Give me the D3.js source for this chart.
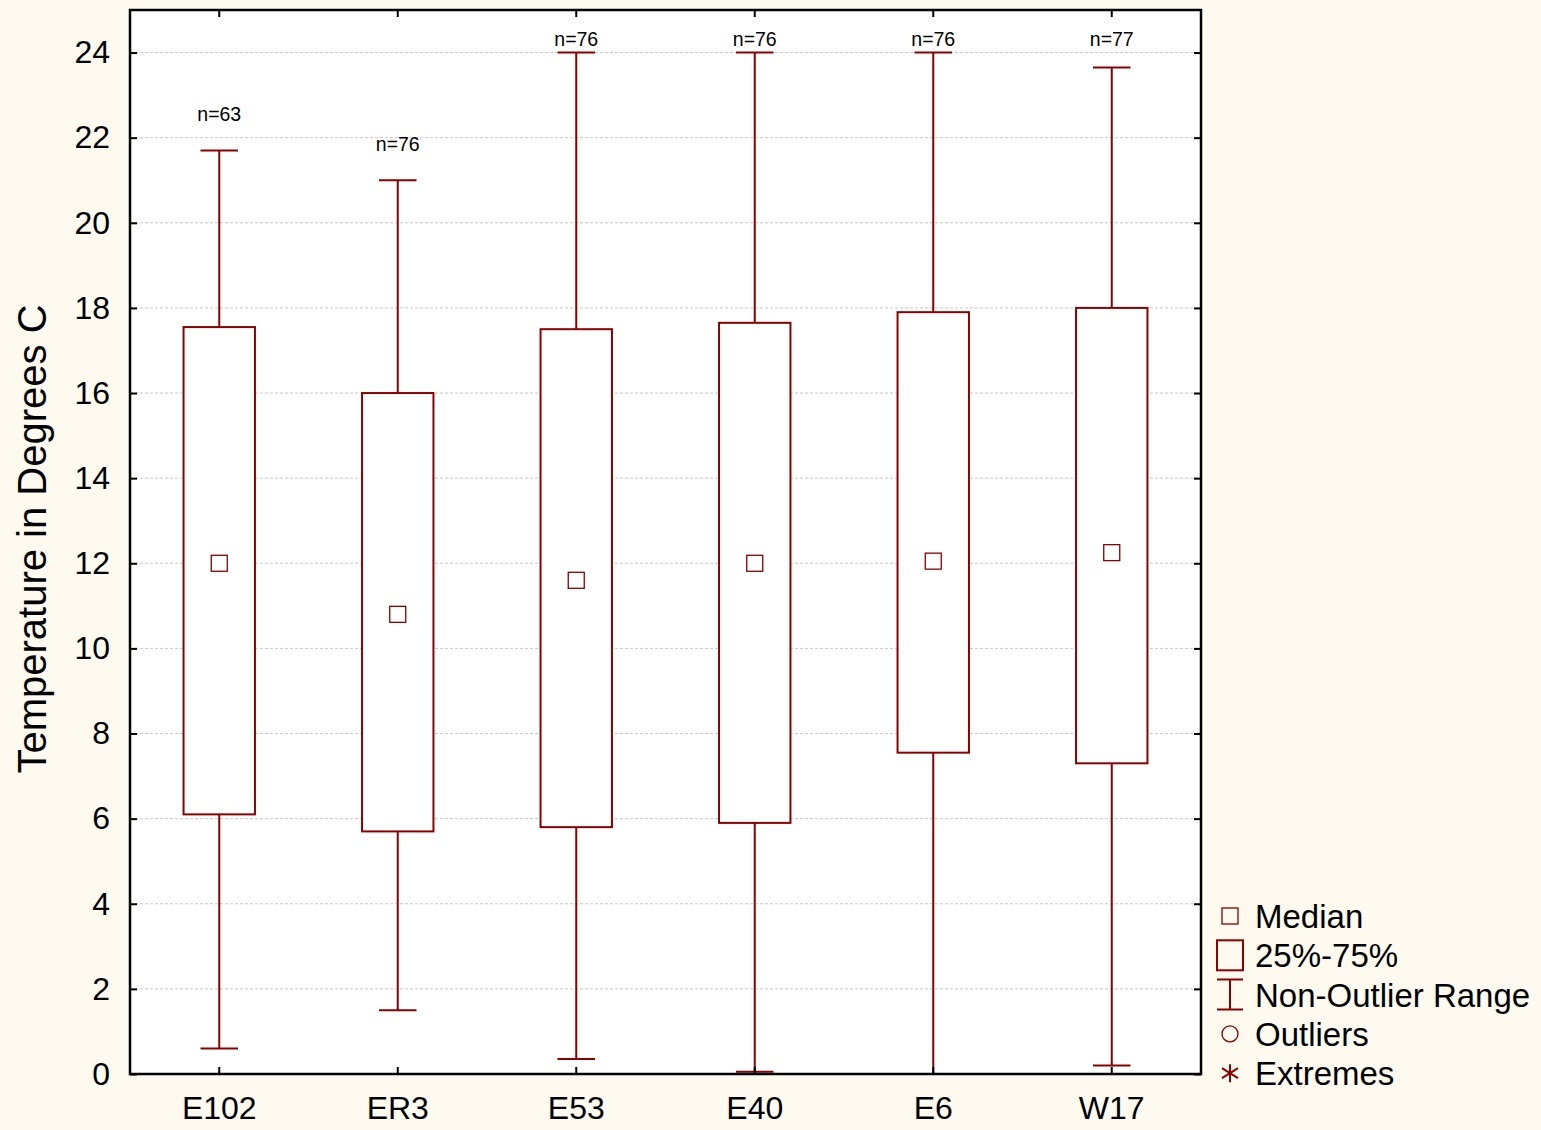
<!DOCTYPE html>
<html><head><meta charset="utf-8">
<script src="https://cdn.jsdelivr.net/npm/d3@7"></script>
<style>body{margin:0;background:#fefaef;} svg{display:block;}</style>
</head><body>
<script>
const categories = ["E102","ER3","E53","E40","E6","W17"];
const mins    = [0.6, 1.5, 0.35, 0.05, 0.0, 0.2];
const q1s     = [6.1, 5.7, 5.8, 5.9, 7.55, 7.3];
const medians = [12.0, 10.8, 11.6, 12.0, 12.05, 12.25];
const q3s     = [17.55, 16.0, 17.5, 17.65, 17.9, 18.0];
const maxs    = [21.7, 21.0, 24.0, 24.0, 24.0, 23.65];
const counts  = [63, 76, 76, 76, 76, 77];
const yTicks  = [0,2,4,6,8,10,12,14,16,18,20,22,24];
const legendItems = ["Median","25%-75%","Non-Outlier Range","Outliers","Extremes"];

const W = 1541, H = 1130;
const m = {l:130, r:340, t:10, b:56};
const red = "#8b0000";
const font = "'Liberation Sans', Arial, Helvetica, sans-serif";

const svg = d3.select("body").append("svg").attr("width", W).attr("height", H)
  .style("font-family", font);
svg.append("rect").attr("width", W).attr("height", H).attr("fill", "#fefaef");

const x = d3.scaleBand().domain(categories).range([m.l, W - m.r]).paddingInner(0).paddingOuter(0);
const y = d3.scaleLinear().domain([0, 25]).range([H - m.b, m.t]);

svg.append("rect").attr("x", m.l).attr("y", m.t).attr("width", x.range()[1]-m.l)
  .attr("height", y(0)-m.t).attr("fill", "#fff");

// grid
svg.append("g").selectAll("line").data(yTicks.filter(d => d > 0)).join("line")
  .attr("x1", m.l).attr("x2", x.range()[1]).attr("y1", d => y(d)).attr("y2", d => y(d))
  .attr("stroke", "#c8c8c8").attr("stroke-width", 1).attr("stroke-dasharray", "3,2");

const data = categories.map((c,i) => ({c, min:mins[i], q1:q1s[i], med:medians[i], q3:q3s[i], max:maxs[i], n:counts[i]}));
const bw = x.bandwidth() * 0.4, cw = x.bandwidth() * 0.21;
const g = svg.append("g").selectAll("g").data(data).join("g")
  .attr("transform", d => `translate(${x(d.c) + x.bandwidth()/2},0)`);
g.append("line").attr("x1",0).attr("x2",0).attr("y1", d=>y(d.max)).attr("y2", d=>y(d.min))
  .attr("stroke", red).attr("stroke-width", 2);
g.append("line").attr("x1",-cw/2).attr("x2",cw/2).attr("y1", d=>y(d.max)).attr("y2", d=>y(d.max))
  .attr("stroke", red).attr("stroke-width", 2);
g.append("line").attr("x1",-cw/2).attr("x2",cw/2).attr("y1", d=>y(d.min)).attr("y2", d=>y(d.min))
  .attr("stroke", red).attr("stroke-width", 2);
g.append("rect").attr("x", -bw/2).attr("width", bw).attr("y", d=>y(d.q3)).attr("height", d=>y(d.q1)-y(d.q3))
  .attr("fill", "#fff").attr("stroke", red).attr("stroke-width", 2);
g.append("rect").attr("x", -8).attr("width", 16).attr("y", d=>y(d.med)-8).attr("height", 16)
  .attr("fill", "#fff").attr("stroke", red).attr("stroke-width", 1.3);
g.append("text").attr("text-anchor","middle").attr("font-size", 19.5)
  .attr("y", d => y(Math.min(d.max + 0.85, 24.33)) + 7).text(d => "n=" + d.n);

// axes
const yAxisL = d3.axisLeft(y).tickValues(yTicks).tickSize(-7).tickPadding(20);
const yAxisR = d3.axisRight(y).tickValues(yTicks).tickSize(-7).tickFormat("");
const xAxisB = d3.axisBottom(x).tickSize(-7).tickPadding(22);
const xAxisT = d3.axisTop(x).tickSize(-7).tickFormat("");
function style(sel){
  sel.select(".domain").attr("stroke","#000").attr("stroke-width",2.5);
  sel.selectAll(".tick line").attr("stroke","#000").attr("stroke-width",2);
  sel.selectAll("text").attr("font-family", font).attr("font-size", 32).attr("fill","#000");
}
svg.append("g").attr("transform",`translate(${m.l},0)`).call(yAxisL).call(style);
svg.append("g").attr("transform",`translate(${x.range()[1]},0)`).call(yAxisR).call(style);
svg.append("g").attr("transform",`translate(0,${y(0)})`).call(xAxisB).call(style);
svg.append("g").attr("transform",`translate(0,${y(25)})`).call(xAxisT).call(style);
svg.selectAll(".domain").attr("d", null);
svg.append("rect").attr("x", m.l).attr("y", y(25)).attr("width", x.range()[1]-m.l).attr("height", y(0)-y(25))
  .attr("fill","none").attr("stroke","#000").attr("stroke-width",2.5);

svg.append("text").attr("transform", `translate(46,${(y(0)+y(25))/2 - 3}) rotate(-90)`)
  .attr("text-anchor","middle").attr("font-size", 40).text("Temperature in Degrees C");

// legend
const lx = 1230, ly0 = 916, lstep = 39.3;
const lg = svg.append("g");
legendItems.forEach((t,i) => {
  const cy = ly0 + i*lstep;
  lg.append("text").attr("x", 1255).attr("y", cy + 12).attr("font-size", 33).text(t);
});
lg.append("rect").attr("x", lx-8).attr("y", ly0-8).attr("width",16).attr("height",16)
  .attr("fill","none").attr("stroke",red).attr("stroke-width",1.3);
let cy = ly0 + lstep;
lg.append("rect").attr("x", lx-13).attr("y", cy-15).attr("width",26).attr("height",30)
  .attr("fill","none").attr("stroke",red).attr("stroke-width",2);
cy = ly0 + 2*lstep;
lg.append("path").attr("d", `M${lx-13},${cy-15}H${lx+13}M${lx},${cy-15}V${cy+15}M${lx-13},${cy+15}H${lx+13}`)
  .attr("stroke",red).attr("stroke-width",2).attr("fill","none");
cy = ly0 + 3*lstep;
lg.append("circle").attr("cx", lx).attr("cy", cy).attr("r", 8)
  .attr("fill","none").attr("stroke",red).attr("stroke-width",1.3);
cy = ly0 + 4*lstep;
lg.append("path").attr("d", `M${lx},${cy-9}V${cy+9}M${lx-8},${cy-5}L${lx+8},${cy+5}M${lx-8},${cy+5}L${lx+8},${cy-5}`)
  .attr("stroke",red).attr("stroke-width",2).attr("fill","none");
</script>
</body></html>
